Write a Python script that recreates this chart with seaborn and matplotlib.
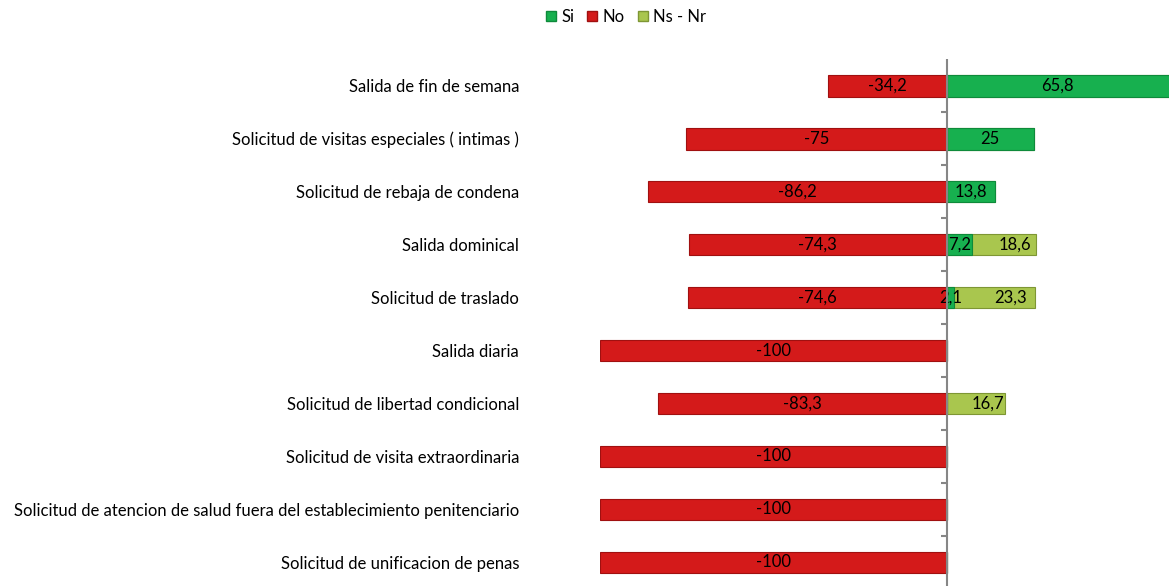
import numpy as np
import matplotlib
matplotlib.use("Agg")
import matplotlib.pyplot as plt
from matplotlib.patches import Patch
import seaborn as sns

categories = [
    "Salida de fin de semana",
    "Solicitud de visitas especiales ( intimas )",
    "Solicitud de rebaja de condena",
    "Salida dominical",
    "Solicitud de traslado",
    "Salida diaria",
    "Solicitud de libertad condicional",
    "Solicitud de visita extraordinaria",
    "Solicitud de atencion de salud fuera del establecimiento penitenciario",
    "Solicitud de unificacion de penas",
]
si = [65.8, 25, 13.8, 7.2, 2.1, 0, 0, 0, 0, 0]
no = [-34.2, -75, -86.2, -74.3, -74.6, -100, -83.3, -100, -100, -100]
ns_nr = [0, 0, 0, 18.6, 23.3, 0, 16.7, 0, 0, 0]

c_si = "#17B04F"
c_no = "#D41A1A"
c_ns = "#A9C64E"

sns.set_theme(style="white")
plt.rcParams["font.family"] = ["Lato", "DejaVu Sans"]
plt.rcParams["text.color"] = "black"
plt.rcParams["ytick.color"] = "black"

fig = plt.figure(figsize=(11.69, 5.86), dpi=100)
ax = fig.add_axes([0.513, -0.005, 0.487, 0.904])

stack_top = [a + b for a, b in zip(si, ns_nr)]
w = 0.41
sns.barplot(x=stack_top, y=categories, orient="h", color=c_ns, width=w,
            edgecolor="#7E9634", linewidth=0.8, ax=ax, saturation=1)
sns.barplot(x=si, y=categories, orient="h", color=c_si, width=w,
            edgecolor="#0E8A3B", linewidth=0.8, ax=ax, saturation=1)
sns.barplot(x=no, y=categories, orient="h", color=c_no, width=w,
            edgecolor="#A01010", linewidth=0.8, ax=ax, saturation=1)


def fmt(v):
    if v == 0:
        return ""
    return ("%g" % round(v, 1)).replace(".", ",")


ns_cont, si_cont, no_cont = ax.containers[0], ax.containers[1], ax.containers[2]
ns_txt = ax.bar_label(ns_cont, labels=[fmt(v) for v in ns_nr], label_type="center", fontsize=12)
ax.bar_label(si_cont, labels=[fmt(v) for v in si], label_type="center", fontsize=12)
ax.bar_label(no_cont, labels=[fmt(v) for v in no], label_type="center", fontsize=12)

# the olive label belongs in the middle of its own segment
for txt, s, n in zip(ns_txt, si, ns_nr):
    if n:
        txt.set_x(s + n / 2)

ax.set_xlim(-100, 64)
ax.set_ylim(len(categories) - 0.5, -0.5)
ax.axvline(0, color="#868686", linewidth=1.5, zorder=5)
bounds = np.arange(len(categories)) + 0.5
ax.hlines(bounds, -1.8, 0, color="#868686", linewidth=1.5, zorder=5)

for s in ax.spines.values():
    s.set_visible(False)
ax.set_xticks([])
ax.set_xlabel("")
ax.set_ylabel("")
ax.tick_params(axis="y", length=0, pad=58, labelsize=12)

handles = [Patch(facecolor=c_si, edgecolor="#0E8A3B"),
           Patch(facecolor=c_no, edgecolor="#A01010"),
           Patch(facecolor=c_ns, edgecolor="#7E9634")]
fig.legend(handles, ["Si", "No", "Ns - Nr"], loc="center", bbox_to_anchor=(626 / 1169, 1 - 17 / 586),
           ncol=3, frameon=False, fontsize=12, handlelength=0.6, handleheight=0.6,
           handletextpad=0.3, columnspacing=0.8)

fig.savefig("out.png", dpi=100)
